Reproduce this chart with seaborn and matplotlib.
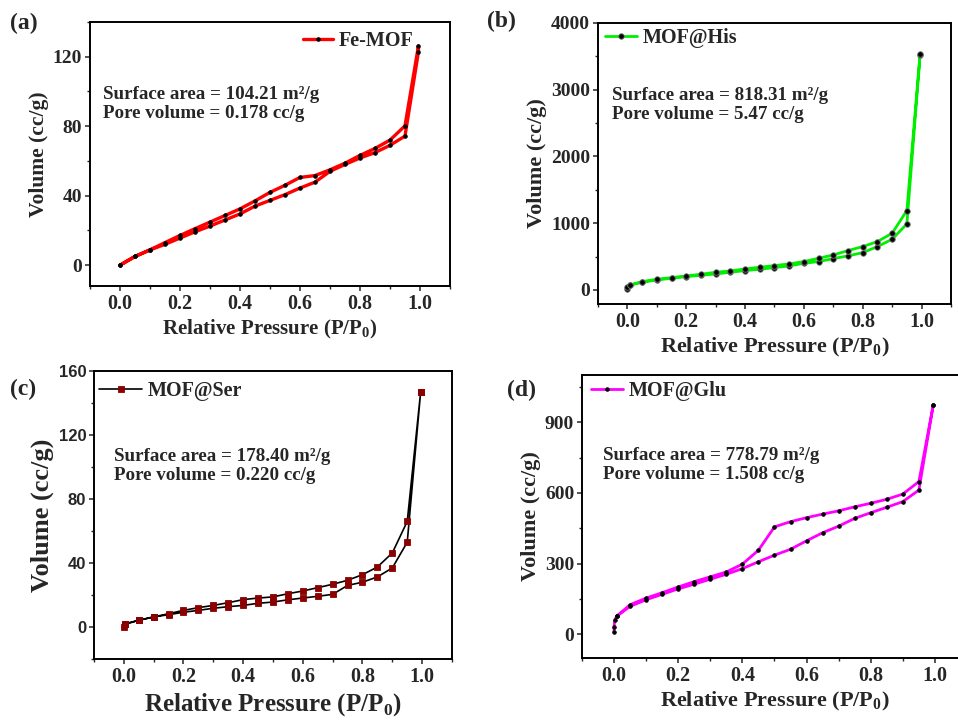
import matplotlib
matplotlib.use('agg')
import matplotlib.pyplot as plt
from matplotlib.ticker import MultipleLocator
import seaborn as sns

# ---- data (relative pressure loop: adsorption up, desorption back down) ----
grid = [0.05, 0.1, 0.15, 0.2, 0.25, 0.3, 0.35, 0.4, 0.45, 0.5,
        0.55, 0.6, 0.65, 0.7, 0.75, 0.8, 0.85, 0.9, 0.95]

p_a = [0.0] + grid + [0.995, 0.995] + grid[::-1] + [0.0]
v_a = [0, 5, 8.8, 12, 15.6, 19.2, 22.5, 26, 29.5, 34, 37.3, 40.6, 44.4, 47.8, 54,
       58, 61.7, 64.8, 69, 74.3, 123,
       126.3, 80.2, 72, 67.2, 63.2, 58.7, 54.9, 51.6, 50.5, 46, 41.9, 37, 32.4,
       28.6, 24.8, 21, 17.1, 13, 8.8, 5, 0]

p_b = [0.0, 0.0, 0.01] + grid + [0.995, 0.995] + grid[::-1] + [0.01]
v_b = [10, 40, 75, 115, 150, 175, 200, 220, 240, 265, 290, 310, 335, 360, 400,
       425, 470, 510, 560, 650, 760, 990, 3525,
       3540, 1190, 850, 725, 650, 590, 525, 475, 425, 390, 365, 340, 315, 285,
       265, 235, 210, 185, 160, 125, 75]

p_c = [0.0, 0.005] + grid + [0.995, 0.995] + grid[::-1] + [0.005]
v_c = [0, 1.7, 4.2, 6.3, 7.7, 9.2, 10.4, 11.7, 12.7, 13.5, 14.8, 15.6, 17, 18.1,
       19.2, 20.4, 26, 28, 31.3, 36.9, 53, 147,
       147, 66, 46.3, 37.5, 32.7, 29.2, 26.7, 24.6, 22.5, 20.8, 18.8, 18.1, 17.1,
       15.2, 13.5, 12.1, 10.4, 8.3, 6.3, 4.2, 2.1]

p_d = [0.0, 0.0, 0.002, 0.008] + grid + [0.995, 0.995] + grid[::-1] + [0.008]
v_d = [10, 31, 60, 77, 119, 147, 170, 193, 213, 234, 255, 279, 308, 336, 361,
       397, 431, 459, 492, 516, 539, 563, 612, 974,
       974, 648, 595, 573, 556, 541, 524, 510, 495, 478, 456, 357, 298, 265, 244,
       224, 201, 177, 154, 126, 77]

names = ['Fe-MOF', 'MOF@His', 'MOF@Ser', 'MOF@Glu']
areas = ['104.21', '818.31', '178.40', '778.79']
pores = ['0.178', '5.47', '0.220', '1.508']
letters = ['(a)', '(b)', '(c)', '(d)']

sns.set_style('ticks')
plt.rcParams['font.family'] = ['Liberation Serif', 'DejaVu Serif']
plt.rcParams['font.weight'] = 'bold'
plt.rcParams['axes.labelweight'] = 'bold'
plt.rcParams['mathtext.fontset'] = 'custom'
plt.rcParams['mathtext.rm'] = 'Liberation Serif:bold'
plt.rcParams['mathtext.bf'] = 'Liberation Serif:bold'
plt.rcParams['axes.linewidth'] = 1.4

fig = plt.figure(figsize=(9.58, 7.21), dpi=100)

small_sub = 'Relative Pressure (P/P$_\\mathrm{0}$)'
big_sub = 'Relative Pressure (P/P$_{\\mathrm{0}}$)'

panels = [
    dict(p=p_a, v=v_a, pos=[0.0939, 0.6033, 0.3758, 0.3662], ylim=(-12, 140), major=40,
         color='#ff0000', lw=2.4, marker='o', ms=2.6, mfc='black', mec='black',
         leg=(0.592, 0.928), hl=1.5, txt=(0.037, 0.758), ylab=15.5, xlab=15, yfs=14,
         lab_xy=(10, 13), xl=small_sub),
    dict(p=p_b, v=v_b, pos=[0.6242, 0.5784, 0.3685, 0.3897], ylim=(-210, 4000), major=1000,
         color='#00ee00', lw=2.0, marker='o', ms=4, mfc='black', mec='#777777',
         leg=(0.02, 0.945), hl=1.6, txt=(0.04, 0.772), ylab=16, xlab=16, yfs=14,
         lab_xy=(487, 11), xl=big_sub),
    dict(p=p_c, v=v_c, pos=[0.0981, 0.0860, 0.3737, 0.3994], ylim=(-20, 160), major=40,
         color='black', lw=1.2, marker='s', ms=4.5, mfc='#8b0000', mec='#8b0000',
         leg=(0.014, 0.93), hl=2.15, txt=(0.056, 0.733), ylab=19, xlab=18, yfs=12,
         lab_xy=(10, 379), xl=big_sub),
    dict(p=p_d, v=v_d, pos=[0.6075, 0.0874, 0.4019, 0.3925], ylim=(-100, 1100), major=300,
         color='#ff00ff', lw=2.0, marker='o', ms=2.6, mfc='black', mec='black',
         leg=(0.024, 0.945), hl=1.6, txt=(0.0545, 0.746), ylab=16, xlab=16, yfs=14,
         lab_xy=(507, 380), xl=small_sub),
]

for i, cfg in enumerate(panels):
    ax = fig.add_axes(cfg['pos'])
    sns.lineplot(x=cfg['p'], y=cfg['v'], sort=False, estimator=None, ax=ax,
                 color=cfg['color'], lw=cfg['lw'], marker=cfg['marker'],
                 markersize=cfg['ms'], markerfacecolor=cfg['mfc'],
                 markeredgecolor=cfg['mec'], markeredgewidth=0.6, label=names[i])
    ax.set_xlim(-0.1, 1.1)
    ax.set_ylim(*cfg['ylim'])
    ax.xaxis.set_major_locator(MultipleLocator(0.2))
    ax.xaxis.set_minor_locator(MultipleLocator(0.1))
    ax.yaxis.set_major_locator(MultipleLocator(cfg['major']))
    ax.yaxis.set_minor_locator(MultipleLocator(cfg['major'] / 2))
    ax.tick_params(which='major', direction='out', length=3.6, width=1.1, pad=2)
    ax.tick_params(which='minor', direction='out', length=2.2, width=1.0)
    ax.tick_params(axis='x', labelsize=14.5)
    ax.tick_params(axis='y', labelsize=cfg['yfs'])
    for lb in ax.get_xticklabels() + ax.get_yticklabels():
        lb.set_fontweight('bold')
    if i == 2:
        for lb in ax.get_yticklabels():
            lb.set_family(['Liberation Sans', 'DejaVu Sans'])
    for s in ax.spines.values():
        s.set_visible(True)
        s.set_color('black')
    ax.set_xlabel(cfg['xl'], fontsize=cfg['xlab'], fontweight='bold', labelpad=3)
    ax.set_ylabel('Volume (cc/g)', fontsize=cfg['ylab'], fontweight='bold', labelpad=3)
    ax.legend(loc='center left', bbox_to_anchor=cfg['leg'], frameon=False,
              borderaxespad=0, borderpad=0, handlelength=cfg['hl'],
              handletextpad=0.25, prop={'size': 14.5, 'weight': 'bold'})
    ax.text(cfg['txt'][0], cfg['txt'][1],
            'Surface area = ' + areas[i] + ' m\u00b2/g\nPore volume = ' + pores[i] + ' cc/g',
            transform=ax.transAxes, ha='left', va='top', fontsize=13.7,
            fontweight='bold', linespacing=1.15)
    fig.text(cfg['lab_xy'][0] / 958, 1 - cfg['lab_xy'][1] / 721, letters[i],
             ha='left', va='top', fontsize=17, fontweight='bold')

fig.savefig('out.png', dpi=100)
